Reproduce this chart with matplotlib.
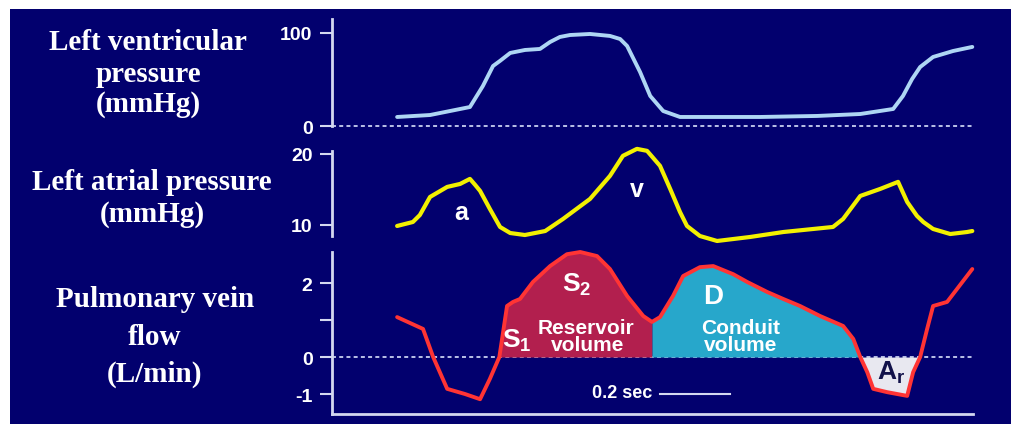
import matplotlib
matplotlib.use("Agg")
import matplotlib.pyplot as plt
import numpy as np
from matplotlib.patches import Rectangle

# time in seconds, measured from the left axis line
LV_TIME = [0.186, 0.28, 0.394, 0.431, 0.46, 0.48, 0.509, 0.551, 0.594, 0.623,
           0.651, 0.68, 0.737, 0.794, 0.823, 0.843, 0.88, 0.909, 0.946, 0.994,
           1.223, 1.386, 1.509, 1.603, 1.631, 1.657, 1.68, 1.717, 1.774, 1.829]
LV_PRESSURE = [9.7, 11.8, 20.4, 43.0, 64.5, 70.0, 78.5, 81.7, 82.8, 90.3,
               95.7, 97.8, 98.9, 96.8, 93.5, 86.0, 58.0, 32.3, 16.1, 9.7,
               9.7, 10.8, 12.9, 18.3, 32.3, 50.5, 63.4, 74.2, 80.6, 85.0]

LA_TIME = [0.186, 0.231, 0.251, 0.28, 0.329, 0.366, 0.394, 0.409, 0.423, 0.451,
           0.48, 0.509, 0.551, 0.609, 0.66, 0.737, 0.794, 0.831, 0.871, 0.9,
           0.937, 0.966, 0.994, 1.014, 1.051, 1.1, 1.194, 1.289, 1.431, 1.46,
           1.509, 1.566, 1.617, 1.643, 1.671, 1.689, 1.717, 1.766, 1.814, 1.829]
LA_PRESSURE = [9.86, 10.42, 11.4, 13.94, 15.35, 15.77, 16.48, 15.63, 14.79, 12.25,
               9.72, 8.87, 8.59, 9.15, 10.85, 13.66, 16.9, 19.72, 20.7, 20.42,
               18.31, 15.07, 11.83, 9.86, 8.45, 7.75, 8.31, 9.01, 9.72, 10.85,
               14.08, 15.07, 16.06, 13.24, 11.27, 10.42, 9.44, 8.73, 9.01, 9.15]

PV_TIME = [0.186, 0.26, 0.289, 0.329, 0.38, 0.423, 0.451, 0.478, 0.5, 0.517,
           0.537, 0.574, 0.623, 0.671, 0.709, 0.757, 0.794, 0.843, 0.889, 0.914,
           0.937, 0.974, 1.003, 1.051, 1.089, 1.146, 1.186, 1.243, 1.289, 1.337,
           1.394, 1.46, 1.489, 1.509, 1.529, 1.546, 1.586, 1.643, 1.66, 1.68,
           1.7, 1.717, 1.757, 1.829]
PV_FLOW = [1.08, 0.76, 0.0, -0.86, -1.0, -1.14, -0.59, 0.0, 1.38, 1.49,
           1.57, 2.03, 2.46, 2.78, 2.84, 2.73, 2.38, 1.65, 1.11, 0.95,
           1.08, 1.65, 2.19, 2.43, 2.46, 2.24, 2.03, 1.76, 1.57, 1.38,
           1.11, 0.84, 0.49, 0.0, -0.41, -0.86, -0.95, -1.05, -0.41, 0.0,
           0.76, 1.38, 1.49, 2.38]

# phase boundaries of the flow curve (s): reservoir, conduit, atrial reversal
RESERVOIR_SPAN = (0.478, 0.914)
CONDUIT_SPAN = (0.914, 1.509)
REVERSAL_SPAN = (1.509, 1.68)

LV_TICKS, LV_TICK_LABELS = [0, 100], ["0", "100"]
LA_TICKS, LA_TICK_LABELS = [10, 20], ["10", "20"]
PV_TICKS, PV_TICK_LABELS = [-1, 0, 1, 2], ["-1", "0", "", "2"]

ROW_LABELS = [
    ["Left ventricular", "pressure", "(mmHg)"],
    ["Left atrial pressure", "(mmHg)"],
    ["Pulmonary vein", "flow", "(L/min)"],
]

W, H = 1016, 427
NAVY = "#02006e"
AXIS_COLOR = "#d4d8f0"
T_MAX = 1.831

plt.rcParams["mathtext.fontset"] = "custom"
plt.rcParams["mathtext.rm"] = "Liberation Sans:bold"
plt.rcParams["mathtext.it"] = "Liberation Sans:bold"
plt.rcParams["mathtext.bf"] = "Liberation Sans:bold"


def px_box(left, top, right, bottom):
    return [left / W, 1 - bottom / H, (right - left) / W, (bottom - top) / H]


def style_axis(ax, ticks, labels, show_bottom=False):
    ax.set_facecolor("none")
    for side in ["top", "right", "bottom"]:
        ax.spines[side].set_visible(False)
    ax.spines["left"].set_color(AXIS_COLOR)
    ax.spines["left"].set_linewidth(2)
    if show_bottom:
        ax.spines["bottom"].set_visible(True)
        ax.spines["bottom"].set_color(AXIS_COLOR)
        ax.spines["bottom"].set_linewidth(2)
    ax.set_xticks([])
    ax.set_yticks(ticks)
    ax.set_yticklabels(labels)
    ax.tick_params(axis="y", colors=AXIS_COLOR, length=9, width=1.5, pad=5,
                   labelcolor="white", labelsize=14)
    for lab in ax.get_yticklabels():
        lab.set_fontfamily("Liberation Sans")
        lab.set_fontweight("bold")
    ax.set_xlim(0, T_MAX)


def zero_line(ax):
    ax.plot([0, T_MAX], [0, 0], color="#c8d0f0", lw=1.3,
            linestyle=(0, (2.2, 1.8)), zorder=1, clip_on=False)


fig = plt.figure(figsize=(W / 100, H / 100), dpi=100)
fig.patch.set_facecolor("white")
fig.patches.append(Rectangle((10 / W, 1 - 425 / H), 1001 / W, 415 / H,
                             transform=fig.transFigure, facecolor=NAVY,
                             edgecolor="none", zorder=-5))

ax_lv = fig.add_axes(px_box(332, 20, 973, 127))
ax_la = fig.add_axes(px_box(332, 152, 973, 237))
ax_pv = fig.add_axes(px_box(332, 253, 973, 415))

# left ventricular pressure
ax_lv.set_ylim(0, 115)
style_axis(ax_lv, LV_TICKS, LV_TICK_LABELS)
zero_line(ax_lv)
ax_lv.plot(LV_TIME, LV_PRESSURE, color="#aed6f4", lw=2.8, clip_on=False,
           solid_capstyle="round", solid_joinstyle="round")

# left atrial pressure
ax_la.set_ylim(8.45, 20.4)
style_axis(ax_la, LA_TICKS, LA_TICK_LABELS)
ax_la.plot(LA_TIME, LA_PRESSURE, color="#f2f000", lw=3.0, clip_on=False,
           solid_capstyle="round", solid_joinstyle="round")
ax_la.text(0.369, 11.83, "a", color="white", fontsize=18, fontweight="bold",
           family="Liberation Sans", ha="center", va="center")
ax_la.text(0.871, 15.07, "v", color="white", fontsize=18, fontweight="bold",
           family="Liberation Sans", ha="center", va="center")

# pulmonary vein flow
ax_pv.set_ylim(-1.54, 2.84)
style_axis(ax_pv, PV_TICKS, PV_TICK_LABELS, show_bottom=True)
zero_line(ax_pv)

t = np.array(PV_TIME)
f = np.array(PV_FLOW)
for (lo, hi), color in [(RESERVOIR_SPAN, "#b21f4e"),
                        (CONDUIT_SPAN, "#27a7cb"),
                        (REVERSAL_SPAN, "#e8e8f0")]:
    mask = (t >= lo - 1e-9) & (t <= hi + 1e-9)
    ax_pv.fill_between(t, f, 0, where=mask, color=color, lw=0, zorder=2,
                       clip_on=False)
ax_pv.plot(PV_TIME, PV_FLOW, color="#ff3434", lw=2.8, zorder=3, clip_on=False,
           solid_joinstyle="round", solid_capstyle="round")

txt = dict(color="white", family="Liberation Sans", fontweight="bold", zorder=4)
ax_pv.text(0.487, 0.27, r"$S_1$", fontsize=19, ha="left", va="baseline", **txt)
ax_pv.text(0.658, 1.78, r"$S_2$", fontsize=19, ha="left", va="baseline", **txt)
ax_pv.text(0.725, 0.81, "Reservoir", fontsize=15, ha="center", va="center", **txt)
ax_pv.text(0.731, 0.35, "volume", fontsize=15, ha="center", va="center", **txt)
ax_pv.text(1.089, 1.65, "D", fontsize=20, ha="center", va="center", **txt)
ax_pv.text(1.166, 0.81, "Conduit", fontsize=15, ha="center", va="center", **txt)
ax_pv.text(1.166, 0.33, "volume", fontsize=15, ha="center", va="center", **txt)
ax_pv.text(1.556, -0.6, r"$A_r$", fontsize=19, ha="left", va="baseline",
           color="#12124a", family="Liberation Sans", zorder=4)

# 0.2 s scale bar
ax_pv.text(0.829, -0.95, "0.2 sec", fontsize=13, ha="center", va="center", **txt)
ax_pv.plot([0.937, 0.937 + 0.2], [-1.0, -1.0], color="#d4d8f0", lw=1.5,
           clip_on=False)

# row labels on the left
label_rows = [(148, [43, 74, 104]), (152, [182, 215]), (155, [300, 338, 374])]
for lines, (cx, ys) in zip(ROW_LABELS, label_rows):
    for line, cy in zip(lines, ys):
        fig.text(cx / W, 1 - cy / H, line, color="white", fontsize=21,
                 fontweight="bold", family="Liberation Serif",
                 ha="center", va="center")

fig.savefig("out.png", dpi=100, facecolor=fig.get_facecolor())
